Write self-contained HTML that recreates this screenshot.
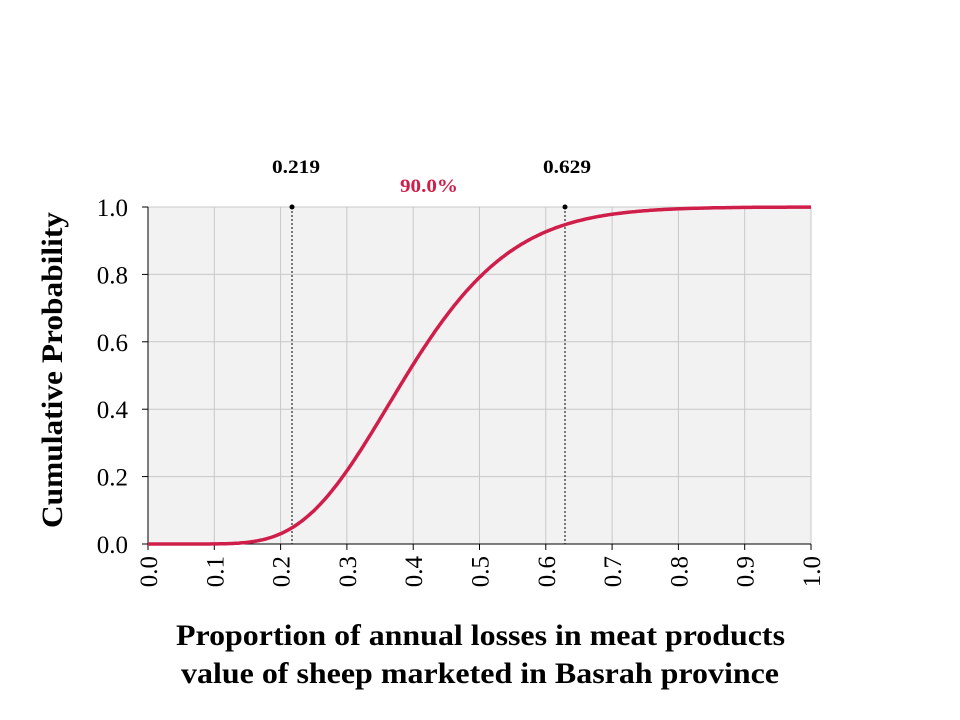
<!DOCTYPE html>
<html><head><meta charset="utf-8"><style>
body{margin:0;background:#fff;}
svg{display:block;font-family:"Liberation Serif",serif;}
</style></head><body>
<svg id="s" width="960" height="720" xmlns="http://www.w3.org/2000/svg">
<rect x="148" y="207" width="663" height="337" fill="#f2f2f2"/>
<g id="grid" stroke="#c8c8c8" stroke-width="1"></g>
<line x1="148" y1="207" x2="148" y2="544" stroke="#000"/>
<line x1="148" y1="544" x2="811" y2="544" stroke="#000"/>
<g id="ticks" stroke="#000"></g>
<g id="labels" font-size="25" fill="#000"></g>
<line x1="292" y1="207" x2="292" y2="544" stroke="#000" stroke-dasharray="2,2"/>
<line x1="565" y1="207" x2="565" y2="544" stroke="#000" stroke-dasharray="2,2"/>
<polyline id="curve" fill="none" stroke="#d01e4a" stroke-width="3.5"/>
<circle cx="292" cy="207" r="2.5" fill="#000"/>
<circle cx="565" cy="207" r="2.5" fill="#000"/>
<text x="272" y="173" font-size="19" font-weight="bold" textLength="48" lengthAdjust="spacingAndGlyphs">0.219</text>
<text x="543" y="173" font-size="19" font-weight="bold" textLength="48" lengthAdjust="spacingAndGlyphs">0.629</text>
<text x="400" y="192" font-size="19" font-weight="bold" fill="#d01e4a" textLength="58" lengthAdjust="spacingAndGlyphs">90.0%</text>
<text transform="translate(62,528) rotate(-90)" font-size="30" font-weight="bold" textLength="316" lengthAdjust="spacingAndGlyphs">Cumulative Probability</text>
<text x="176" y="645" font-size="30" font-weight="bold" textLength="609" lengthAdjust="spacingAndGlyphs">Proportion of annual losses in meat products</text>
<text x="181" y="683" font-size="30" font-weight="bold" textLength="598" lengthAdjust="spacingAndGlyphs">value of sheep marketed in Basrah province</text>
</svg>
<script>
var ns="http://www.w3.org/2000/svg",g=document.getElementById("grid"),t=document.getElementById("ticks"),L=document.getElementById("labels");
function el(p,n,a,txt){var e=document.createElementNS(ns,n);for(var k in a)e.setAttribute(k,a[k]);if(txt)e.textContent=txt;p.appendChild(e);}
for(var i=0;i<=10;i++){var x=148+i*66.3;if(i>0)el(g,"line",{x1:x,y1:207,x2:x,y2:544});el(t,"line",{x1:x,y1:544,x2:x,y2:550});
el(L,"text",{transform:"translate("+(x+9)+",556) rotate(-90)","text-anchor":"end"},(i/10).toFixed(1));}
for(var j=0;j<=5;j++){var y=544-j*67.4;if(j>0)el(g,"line",{x1:148,y1:y,x2:811,y2:y});el(t,"line",{x1:142,y1:y,x2:148,y2:y});
el(L,"text",{x:128,y:y+9,"text-anchor":"end"},(j/5).toFixed(1));}
function cdf(v){var z=v/0.0403,s=0,term=1;for(var i=0;i<10;i++){if(i>0)term*=z/i;s+=term;}return 1-Math.exp(-z)*s;}
var pts=[];for(var k=0;k<=400;k++){var v=k/400;pts.push((148+v*663).toFixed(1)+","+(544-cdf(v)*337).toFixed(1));}
document.getElementById("curve").setAttribute("points",pts.join(" "));
</script>
</body></html>
